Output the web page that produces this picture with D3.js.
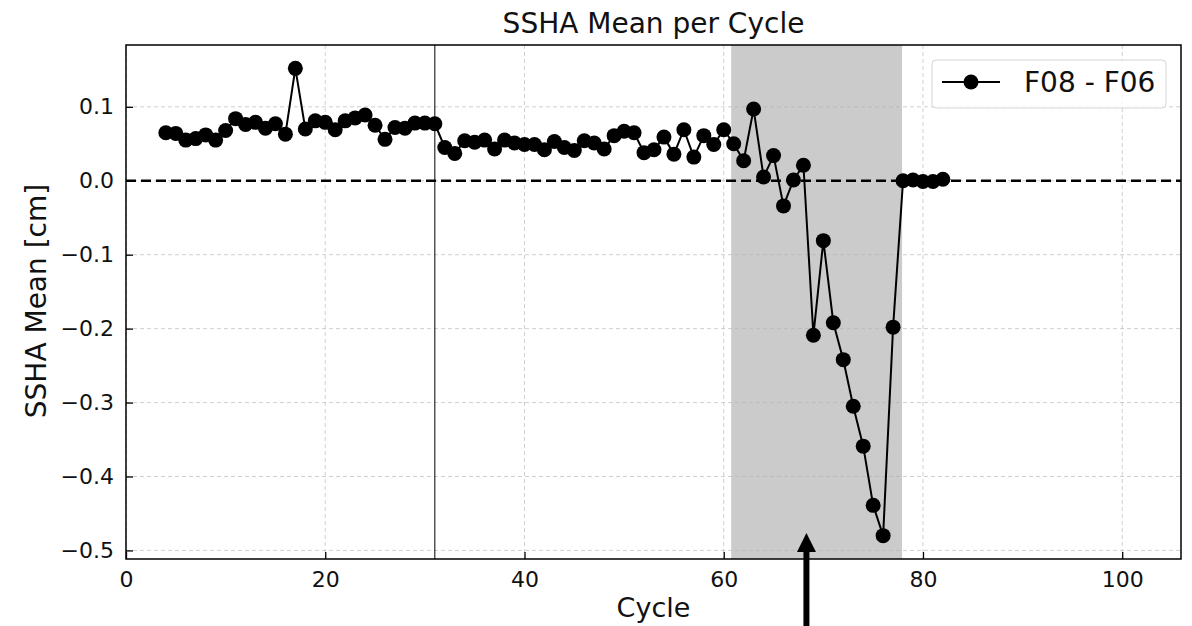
<!DOCTYPE html>
<html>
<head>
<meta charset="utf-8">
<script src="https://cdn.jsdelivr.net/npm/d3@7"></script>
<style>
  body { margin: 0; background: #fff; }
  text { font-family: "DejaVu Sans", sans-serif; fill: #111; }
</style>
</head>
<body>
<div id="chart"></div>
<script>
// data
var cycles = [4, 5, 6, 7, 8, 9, 10, 11, 12, 13, 14, 15, 16, 17, 18, 19, 20, 21, 22, 23,
  24, 25, 26, 27, 28, 29, 30, 31, 32, 33, 34, 35, 36, 37, 38, 39, 40, 41, 42, 43,
  44, 45, 46, 47, 48, 49, 50, 51, 52, 53, 54, 55, 56, 57, 58, 59, 60, 61, 62, 63,
  64, 65, 66, 67, 68, 69, 70, 71, 72, 73, 74, 75, 76, 77, 78, 79, 80, 81, 82];
var sshaMean = [0.065, 0.064, 0.055, 0.057, 0.062, 0.055, 0.068, 0.084, 0.076, 0.079,
  0.071, 0.077, 0.063, 0.152, 0.070, 0.081, 0.079, 0.069, 0.081, 0.085,
  0.089, 0.075, 0.056, 0.072, 0.071, 0.078, 0.078, 0.077, 0.045, 0.037,
  0.054, 0.052, 0.055, 0.043, 0.055, 0.051, 0.049, 0.049, 0.042, 0.053,
  0.045, 0.041, 0.054, 0.051, 0.043, 0.061, 0.067, 0.065, 0.038, 0.042,
  0.059, 0.036, 0.069, 0.032, 0.061, 0.049, 0.069, 0.050, 0.027, 0.097,
  0.005, 0.034, -0.034, 0.001, 0.021, -0.209, -0.081, -0.192, -0.242, -0.305,
  -0.359, -0.439, -0.480, -0.198, 0.000, 0.001, -0.001, -0.001, 0.002];
var xTicks = [0, 20, 40, 60, 80, 100];
var yTicks = [-0.5, -0.4, -0.3, -0.2, -0.1, 0.0, 0.1];
var shadeRange = [60.75, 77.9];
var markerCycle = 31;
var arrowCycle = 68.3;
var seriesName = "F08 - F06";

var svgWidth = 1192;
var svgHeight = 626;
var margin = { top: 45, right: 11, bottom: 67, left: 126 };
var chartWidth = svgWidth - margin.left - margin.right;
var chartHeight = svgHeight - margin.top - margin.bottom;

var svg = d3.select("#chart")
  .append("svg")
  .attr("width", svgWidth)
  .attr("height", svgHeight);

var chartGroup = svg.append("g")
  .attr("transform", `translate(${margin.left}, ${margin.top})`);

var xScale = d3.scaleLinear()
  .domain([0, 105.9])
  .range([0, chartWidth]);

var yScale = d3.scaleLinear()
  .domain([-0.5116, 0.1836])
  .range([chartHeight, 0]);

// shaded span
chartGroup.append("rect")
  .attr("x", xScale(shadeRange[0]))
  .attr("y", 0)
  .attr("width", xScale(shadeRange[1]) - xScale(shadeRange[0]))
  .attr("height", chartHeight)
  .attr("fill", "#cbcbcb");

// grid
chartGroup.append("g")
  .selectAll("line")
  .data(xTicks)
  .enter()
  .append("line")
  .attr("x1", d => xScale(d))
  .attr("x2", d => xScale(d))
  .attr("y1", 0)
  .attr("y2", chartHeight)
  .attr("stroke", "#b0b0b0")
  .attr("stroke-opacity", 0.6)
  .attr("stroke-width", 1)
  .attr("stroke-dasharray", "4,3");

chartGroup.append("g")
  .selectAll("line")
  .data(yTicks)
  .enter()
  .append("line")
  .attr("x1", 0)
  .attr("x2", chartWidth)
  .attr("y1", d => yScale(d))
  .attr("y2", d => yScale(d))
  .attr("stroke", "#b0b0b0")
  .attr("stroke-opacity", 0.6)
  .attr("stroke-width", 1)
  .attr("stroke-dasharray", "4,3");

// zero line
chartGroup.append("line")
  .attr("x1", 0)
  .attr("x2", chartWidth)
  .attr("y1", yScale(0))
  .attr("y2", yScale(0))
  .attr("stroke", "#000")
  .attr("stroke-width", 2.6)
  .attr("stroke-dasharray", "10,5");

// vertical line
chartGroup.append("line")
  .attr("x1", xScale(markerCycle))
  .attr("x2", xScale(markerCycle))
  .attr("y1", 0)
  .attr("y2", chartHeight)
  .attr("stroke", "#000")
  .attr("stroke-width", 1);

var points = cycles.map((c, i) => ({ cycle: c, value: sshaMean[i] }));

var line = d3.line()
  .x(d => xScale(d.cycle))
  .y(d => yScale(d.value));

chartGroup.append("path")
  .datum(points)
  .attr("d", line)
  .attr("fill", "none")
  .attr("stroke", "#000")
  .attr("stroke-width", 2);

chartGroup.selectAll("circle.pt")
  .data(points)
  .enter()
  .append("circle")
  .attr("class", "pt")
  .attr("cx", d => xScale(d.cycle))
  .attr("cy", d => yScale(d.value))
  .attr("r", 7.5)
  .attr("fill", "#000");

// axes
var bottomAxis = d3.axisBottom(xScale)
  .tickValues(xTicks)
  .tickSize(-7)
  .tickPadding(12)
  .tickFormat(d3.format("d"));
var leftAxis = d3.axisLeft(yScale)
  .tickValues(yTicks)
  .tickSize(-7)
  .tickPadding(12)
  .tickFormat(d3.format(".1f"));

var xAxisG = chartGroup.append("g")
  .attr("transform", `translate(0, ${chartHeight})`)
  .call(bottomAxis);
var yAxisG = chartGroup.append("g")
  .call(leftAxis);

[xAxisG, yAxisG].forEach(function(g) {
  g.select(".domain").remove();
  g.selectAll(".tick line").attr("stroke", "#000").attr("stroke-width", 1.3);
  g.selectAll(".tick text").attr("font-size", "22px").attr("fill", "#111");
});

// frame
chartGroup.append("rect")
  .attr("x", 0)
  .attr("y", 0)
  .attr("width", chartWidth)
  .attr("height", chartHeight)
  .attr("fill", "none")
  .attr("stroke", "#000")
  .attr("stroke-width", 1.5);

// legend
var legend = chartGroup.append("g")
  .attr("transform", `translate(${chartWidth - 249}, 15)`);
legend.append("rect")
  .attr("width", 234)
  .attr("height", 48)
  .attr("rx", 4)
  .attr("fill", "#fff")
  .attr("fill-opacity", 0.8)
  .attr("stroke", "#d5d5d5")
  .attr("stroke-width", 1);
legend.append("line")
  .attr("x1", 10)
  .attr("x2", 68)
  .attr("y1", 22)
  .attr("y2", 22)
  .attr("stroke", "#000")
  .attr("stroke-width", 2);
legend.append("circle")
  .attr("cx", 39)
  .attr("cy", 22)
  .attr("r", 7.5)
  .attr("fill", "#000");
legend.append("text")
  .attr("x", 92)
  .attr("y", 32)
  .attr("font-size", "28px")
  .text(seriesName);

// arrow annotation
var ax = xScale(arrowCycle);
var tipY = yScale(-0.4805) - 3;
chartGroup.append("line")
  .attr("x1", ax)
  .attr("x2", ax)
  .attr("y1", svgHeight - margin.top + 5)
  .attr("y2", tipY + 16)
  .attr("stroke", "#000")
  .attr("stroke-width", 6);
chartGroup.append("path")
  .attr("d", `M${ax},${tipY} L${ax + 9.5},${tipY + 19} L${ax - 9.5},${tipY + 19} Z`)
  .attr("fill", "#000");

// title and axis labels
svg.append("text")
  .attr("x", margin.left + chartWidth / 2)
  .attr("y", 33)
  .attr("text-anchor", "middle")
  .attr("font-size", "28px")
  .text("SSHA Mean per Cycle");

svg.append("text")
  .attr("x", margin.left + chartWidth / 2)
  .attr("y", 617)
  .attr("text-anchor", "middle")
  .attr("font-size", "27px")
  .text("Cycle");

svg.append("text")
  .attr("transform", "rotate(-90)")
  .attr("x", -(margin.top + chartHeight / 2) + 1)
  .attr("y", 46)
  .attr("text-anchor", "middle")
  .attr("font-size", "28px")
  .text("SSHA Mean [cm]");
</script>
</body>
</html>
